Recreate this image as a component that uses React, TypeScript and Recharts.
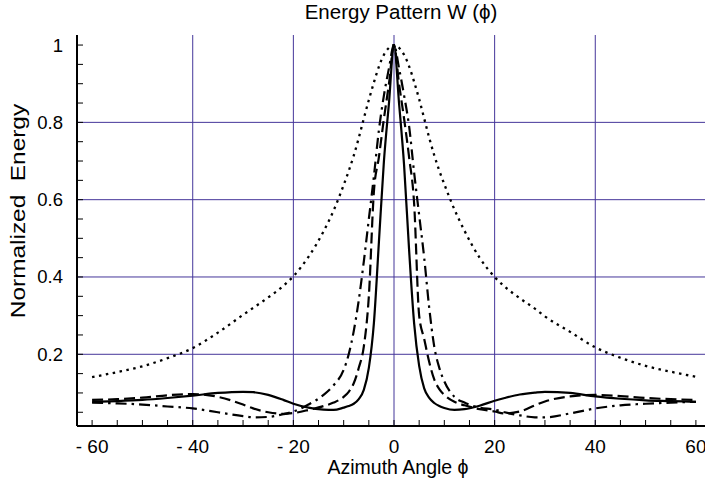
import React from "react";
import { LineChart, Line, XAxis, YAxis, ReferenceLine } from "recharts";

const angles = [
  -60, -55, -50, -45, -40, -35, -30, -28, -25, -22, -20, -17, -14, -12, -10, -9, -8, -7, -6, -5, -4, -3, -2, -1,
  0,
  1, 2, 3, 4, 5, 6, 7, 8, 9, 10, 12, 14, 17, 20, 22, 25, 28, 30, 35, 40, 45, 50, 55, 60,
];

const solid = [
  0.077, 0.079, 0.082, 0.087, 0.093, 0.1, 0.103, 0.102, 0.095, 0.082, 0.072, 0.062, 0.057, 0.056, 0.062, 0.066, 0.072, 0.084, 0.108, 0.165, 0.28, 0.49, 0.7, 0.85,
  1,
  0.85, 0.69, 0.47, 0.28, 0.17, 0.112, 0.087, 0.074, 0.066, 0.061, 0.056, 0.058, 0.067, 0.08, 0.087, 0.096, 0.101, 0.103, 0.1, 0.091, 0.085, 0.081, 0.079, 0.077,
];

const dashed = [
  0.082, 0.084, 0.088, 0.094, 0.097, 0.09, 0.07, 0.06, 0.05, 0.046, 0.048, 0.056, 0.066, 0.075, 0.09, 0.103, 0.125, 0.165, 0.22, 0.35, 0.62, 0.71, 0.81, 0.9,
  1,
  0.9, 0.81, 0.71, 0.59, 0.3, 0.24, 0.18, 0.135, 0.11, 0.095, 0.077, 0.068, 0.058, 0.052, 0.047, 0.052, 0.068, 0.078, 0.091, 0.095, 0.092, 0.087, 0.084, 0.082,
];

const dashDot = [
  0.075, 0.073, 0.07, 0.065, 0.06, 0.05, 0.04, 0.037, 0.038, 0.045, 0.052, 0.07, 0.095, 0.12, 0.16, 0.2, 0.26, 0.34, 0.44, 0.55, 0.66, 0.78, 0.87, 0.94,
  1,
  0.94, 0.87, 0.79, 0.67, 0.56, 0.45, 0.32, 0.22, 0.165, 0.13, 0.09, 0.075, 0.062, 0.057, 0.05, 0.042, 0.037, 0.037, 0.047, 0.06, 0.068, 0.072, 0.075, 0.077,
];

const dotted = [
  0.141, 0.154, 0.169, 0.19, 0.216, 0.256, 0.302, 0.32, 0.347, 0.377, 0.402, 0.452, 0.518, 0.572, 0.638, 0.674, 0.714, 0.76, 0.81, 0.858, 0.903, 0.944, 0.975, 0.993,
  1,
  0.993, 0.975, 0.945, 0.905, 0.86, 0.81, 0.76, 0.715, 0.675, 0.64, 0.575, 0.52, 0.45, 0.4, 0.375, 0.345, 0.318, 0.298, 0.258, 0.218, 0.191, 0.17, 0.155, 0.142,
];

const xTicks = [-60, -55, -50, -45, -40, -35, -30, -25, -20, -15, -10, -5, 0, 5, 10, 15, 20, 25, 30, 35, 40, 45, 50, 55, 60];
const xLabels = [-60, -40, -20, 0, 20, 40, 60];
const yTicks = [0.05, 0.1, 0.15, 0.2, 0.25, 0.3, 0.35, 0.4, 0.45, 0.5, 0.55, 0.6, 0.65, 0.7, 0.75, 0.8, 0.85, 0.9, 0.95, 1];
const yLabels = [0.2, 0.4, 0.6, 0.8, 1];
const xGrid = [-40, -20, 0, 20, 40];
const yGrid = [0.2, 0.4, 0.6, 0.8];

const data = angles.map((a, i) => ({
  angle: a,
  solid: solid[i],
  dashed: dashed[i],
  dashDot: dashDot[i],
  dotted: dotted[i],
}));

const FONT = "'Liberation Sans', Arial, sans-serif";
const GRID = "#45369a";
const TICK_LEN = 6;

function fmtX(v: number) {
  return v < 0 ? `- ${Math.abs(v)}` : `${v}`;
}

function BottomTick(props: any) {
  const { x, y, payload } = props;
  const v = payload.value;
  const labeled = xLabels.some((l) => Math.abs(l - v) < 1e-6);
  return (
    <g>
      <line x1={x} y1={y} x2={x} y2={y - TICK_LEN} stroke="#000" strokeWidth={1} />
      {labeled && (
        <text x={x} y={y + 27} textAnchor="middle" fontSize={19} fontFamily={FONT} fill="#000">
          {fmtX(v)}
        </text>
      )}
    </g>
  );
}

function TopTick(props: any) {
  const { x, y } = props;
  return <line x1={x} y1={y} x2={x} y2={y + TICK_LEN} stroke="#000" strokeWidth={1} />;
}

function LeftTick(props: any) {
  const { x, y, payload } = props;
  const v = payload.value;
  const labeled = yLabels.some((l) => Math.abs(l - v) < 1e-6);
  return (
    <g>
      <line x1={x} y1={y} x2={x + TICK_LEN} y2={y} stroke="#000" strokeWidth={1} />
      {labeled && (
        <text x={x - 14} y={y + 6.5} textAnchor="end" fontSize={18.5} fontFamily={FONT} fill="#000">
          {String(Math.round(v * 10) / 10)}
        </text>
      )}
    </g>
  );
}

export default function App() {
  return (
    <div
      style={{
        position: "absolute",
        left: 0,
        top: 0,
        width: 705,
        height: 488,
        overflow: "hidden",
        background: "#fff",
        fontFamily: FONT,
      }}
    >
      <div
        style={{
          position: "absolute",
          left: 201,
          top: 0,
          width: 400,
          textAlign: "center",
          fontSize: 20.5,
          lineHeight: "24px",
          color: "#000",
        }}
      >
        Energy Pattern W (ϕ)
      </div>
      <div
        style={{
          position: "absolute",
          left: 198,
          top: 455,
          width: 400,
          textAlign: "center",
          fontSize: 19.5,
          lineHeight: "24px",
          color: "#000",
        }}
      >
        Azimuth Angle ϕ
      </div>
      <div
        style={{
          position: "absolute",
          left: 18,
          top: 211,
          width: 300,
          marginLeft: -150,
          marginTop: -12,
          lineHeight: "24px",
          textAlign: "center",
          fontSize: 20,
          color: "#000",
          transform: "rotate(-90deg) scaleX(1.22)",
          whiteSpace: "pre",
        }}
      >
        {"Normalized  Energy"}
      </div>
      <LineChart width={720} height={488} data={data} margin={{ top: 35, right: 9, bottom: 0, left: 0 }}>
        <XAxis
          xAxisId="bottom"
          dataKey="angle"
          type="number"
          domain={[-63, 63]}
          ticks={xTicks}
          interval={0}
          allowDataOverflow
          height={62}
          tickSize={0}
          tickMargin={0}
          tickLine={false}
          tick={<BottomTick />}
          axisLine={{ stroke: "#000", strokeWidth: 2 }}
        />
        <XAxis
          xAxisId="top"
          orientation="top"
          dataKey="angle"
          type="number"
          domain={[-63, 63]}
          ticks={xTicks}
          interval={0}
          allowDataOverflow
          height={0}
          tickSize={0}
          tickMargin={0}
          tickLine={false}
          tick={<TopTick />}
          axisLine={{ stroke: "#000", strokeWidth: 2 }}
        />
        <YAxis
          type="number"
          domain={[0.0145, 1.026]}
          ticks={yTicks}
          interval={0}
          allowDataOverflow
          width={77}
          tickSize={0}
          tickMargin={0}
          tickLine={false}
          tick={<LeftTick />}
          axisLine={{ stroke: "#000", strokeWidth: 2 }}
        />
        {xGrid.map((g) => (
          <ReferenceLine key={`x${g}`} xAxisId="bottom" x={g} stroke={GRID} strokeWidth={1} />
        ))}
        {yGrid.map((g) => (
          <ReferenceLine key={`y${g}`} xAxisId="bottom" y={g} stroke={GRID} strokeWidth={1} />
        ))}
        <Line xAxisId="bottom" type="monotone" dataKey="dotted" stroke="#000" strokeWidth={2.3} strokeDasharray="2.5 4.5" dot={false} isAnimationActive={false} />
        <Line xAxisId="bottom" type="monotone" dataKey="dashDot" stroke="#000" strokeWidth={2.2} strokeDasharray="11 5 2.5 5" dot={false} isAnimationActive={false} />
        <Line xAxisId="bottom" type="monotone" dataKey="dashed" stroke="#000" strokeWidth={2.2} strokeDasharray="11 5" dot={false} isAnimationActive={false} />
        <Line xAxisId="bottom" type="monotone" dataKey="solid" stroke="#000" strokeWidth={2.2} dot={false} isAnimationActive={false} />
      </LineChart>
    </div>
  );
}
